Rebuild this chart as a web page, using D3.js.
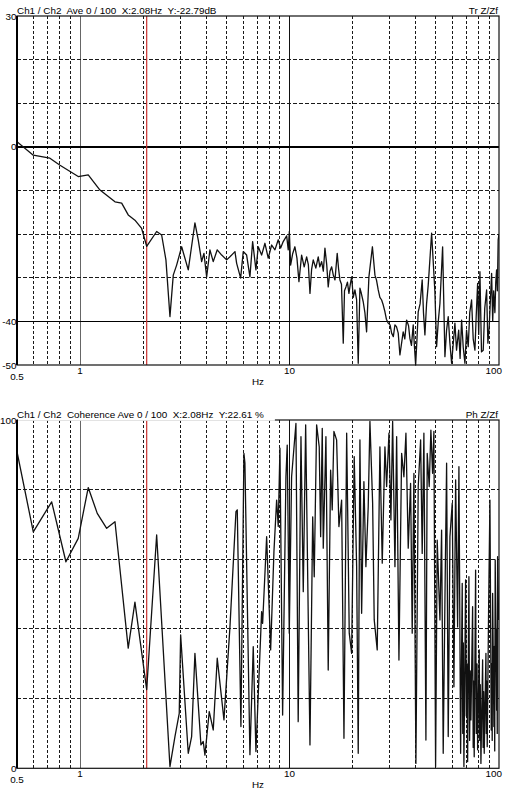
<!DOCTYPE html>
<html><head><meta charset="utf-8">
<script src="https://cdn.jsdelivr.net/npm/d3@7"></script>
<style>
body{margin:0;background:#fff}
text{font-family:"Liberation Sans",Arial,sans-serif;font-size:9.9px;fill:#000}
</style>
</head><body><svg id="c" width="510" height="791"></svg>
<script>
// ---------- data ----------
const xTickValues = [0.5, 1, 10, 100];
const xTickLabels = ["0.5", "1", "10", "100"];
const xMinorGrid = [0.6,0.7,0.8,0.9,2,3,4,5,6,7,8,9,20,30,40,50,60,70,80,90];
const xMajorGrid = [1, 10];
const markerFreq = 2.08;

const trHeader = "Ch1 / Ch2  Ave 0 / 100  X:2.08Hz  Y:-22.79dB";
const trRight = "Tr Z/Zf";
const trYTicks = [30, 0, -40, -50];
const trDashed = [20, 10, -10, -20, -30];
const trSolid = [0, -40];
const trFreq = [0.5,0.598,0.718,0.802,0.98,1.094,1.245,1.468,1.58,1.698,1.828,1.968,2.08,2.321,2.452,2.57,2.686,2.786,2.891,3.055,3.285,3.535,3.666,3.806,3.903,4.021,4.169,4.323,4.518,4.743,5.01,5.195,5.489,5.592,5.843,6.012,6.24,6.471,6.666,6.912,7.09,7.359,7.632,7.913,8.215,8.518,8.833,9.07,9.33,9.69,9.86,9.98,
  10.12,10.35,10.61,10.85,11.09,11.42,11.75,12.07,12.3,12.52,12.75,12.98,13.35,13.71,13.95,14.23,14.5,14.76,15.05,15.3,15.6,15.89,16.2,16.48,16.89,17.15,17.4,17.7,18.05,18.3,18.59,18.9,19.21,19.5,19.79,20.15,20.52,20.9,21.28,21.68,22.0,22.48,22.9,23.33,23.93,24.87,25.57,26.0,26.51,27.0,27.52,28.0,28.54,29.0,29.59,30.2,30.72,31.3,31.86,32.4,33.03,33.65,34.88,35.5,36.22,37.0,37.55,38.2,38.95,39.5,40.0,40.6,41.15,42.0,42.99,43.6,44.29,45.1,45.93,47.68,49.43,50.36,51.3,52.24,53.81,55.19,56.2,57.23,58.3,59.4,60.5,61.6,62.7,64.2,65.2,66.3,67.5,68.76,70.0,71.29,72.5,73.98,75.3,76.74,77.8,79.06,80.0,81.08,82.5,84.08,85.5,87.27,88.5,89.8,91.0,92.2,93.3,94.3,95.6,96.5,97.4,98.2,99.1,100];
const trDb = [1.2,-1.9,-2.6,-4.2,-6.8,-6.4,-9.9,-12.6,-12.9,-15.6,-16.8,-18.7,-22.79,-19.4,-20.2,-25.9,-38.9,-29.4,-27.1,-22.9,-28.2,-17.4,-21.3,-26.3,-24.4,-29.8,-23.6,-26.3,-23.6,-24.8,-25.9,-25.2,-24.0,-26.7,-30.1,-24.0,-24.8,-29.8,-21.7,-28.2,-22.9,-24.8,-22.1,-25.5,-22.5,-23.6,-21.3,-23.2,-21.7,-20.4,-23.6,-19.4,
  -27.1,-24.5,-22.9,-25.5,-30.9,-24.8,-27.5,-25.2,-27.0,-33.6,-28.0,-25.9,-27.8,-25.2,-27.5,-26.3,-28.5,-23.2,-27.0,-32.1,-28.5,-27.5,-29.5,-30.5,-24.4,-28.0,-30.5,-31.5,-45.0,-33.0,-32.1,-31.0,-33.6,-31.5,-29.8,-34.5,-32.8,-35.0,-49.6,-32.4,-33.5,-35.5,-38.0,-42.4,-29.8,-22.9,-29.4,-30.5,-32.8,-34.5,-35.1,-36.2,-37.8,-39.5,-40.4,-40.8,-42.7,-43.5,-40.8,-41.2,-42.7,-47.7,-42.4,-44.0,-39.7,-41.0,-43.9,-45.5,-40.8,-46.0,-50,-44.0,-37.8,-36.0,-30.5,-38.0,-43.1,-36.0,-31.7,-19.8,-33.2,-45.8,-40.0,-35.9,-22.9,-48.1,-42.0,-38.9,-45.0,-49.6,-45.0,-40.4,-46.6,-42,-48.5,-39.7,-46,-49.6,-42,-45.8,-38,-35.1,-44,-46.6,-39,-31.3,-43,-28.6,-47,-46.6,-37,-32.8,-45,-41.2,-35,-29.0,-40,-33,-38,-31,-28.2,-33,-21.3,-20];

const cohHeader = "Ch1 / Ch2  Coherence Ave 0 / 100  X:2.08Hz  Y:22.61 %";
const cohRight = "Ph Z/Zf";
const cohYTicks = [100, 0];
const cohDashed = [80, 60, 40, 20];
const cohSolid = [];
const cohFreq = [0.5,0.598,0.732,0.856,0.98,1.094,1.208,1.34,1.468,1.698,1.828,2.08,2.321,2.686,2.838,2.975,3.021,3.285,3.409,3.535,3.776,3.873,3.946,4.138,4.323,4.518,4.864,5.195,5.55,5.63,5.861,6.057,6.124,6.471,6.711,6.912,7.359,7.44,7.776,8.126,8.425,8.679,8.833,9.0,9.27,9.612,9.75,9.97,10.23,10.73,11.0,11.34,11.63,11.94,12.52,12.9,13.12,13.47,13.86,14.08,14.33,14.49,14.92,15.3,15.71,15.99,16.29,16.78,17.21,17.73,18.19,18.74,19.28,19.79,20.36,20.91,21.28,21.68,22.09,22.65,23.15,23.75,24.2,24.93,25.37,26.22,27.01,27.71,28.54,29.08,29.83,30.48,31.06,31.86,32.46,33.29,34.29,35.16,35.95,36.87,37.84,38.52,39.25,40.12,41.15,42.25,42.99,43.8,44.78,45.43,46.43,47.3,48.19,48.89,49.81,50.7,52.24,53.21,54.16,55.19,56.22,57.23,58.31,59.8,60.93,62.08,63.45,64.37,65.58,66.75,67.15,67.55,68.0,69.28,69.8,70.3,70.82,71.84,72.4,72.9,73.44,74.82,75.3,75.7,76.15,77.33,77.9,78.5,79.06,80.46,80.9,81.4,81.98,83.52,84.0,84.5,85.02,86.62,87.0,87.4,87.86,89.23,90.52,91.82,92.3,92.8,93.24,94.56,95.0,95.4,95.92,97.41,97.8,98.1,98.47,99.56];
const cohPct = [90.9,67.9,76.5,59.3,66.0,80.6,73.2,68.9,70.8,34.5,47.7,22.61,67.0,0.5,9.1,15.8,38.3,4.3,9.1,33.0,6.7,7.7,3.8,16.3,11.0,31.6,13.9,40.6,73.7,74.2,12.0,90.4,87.6,3.9,34.9,4.8,45.0,41.6,66.5,34.0,62.2,77.0,69.4,91.9,15.3,83.7,92.8,38.8,83.7,99.0,13.4,95.2,50.7,98.6,6.7,72.2,55.0,98.6,92.3,66.5,97.6,63.2,95.2,28.2,85.6,74.2,96.7,94.3,69.4,77.0,8.6,96.2,38.8,33.0,89.5,57.9,4.3,94.3,44.5,82.3,57.9,75.1,99.6,76.1,42.6,34.0,92.3,58.9,92.3,80.9,96.2,71.3,99.6,57.9,95.2,31.1,90.4,83.7,96.2,63.2,81.8,38.8,84.7,1.4,80.9,94.3,61.7,96.2,8.1,90.4,80.9,97.1,84.7,96.7,0.5,65.5,42.6,68.4,4.3,48.3,87.6,9.1,66.5,76.1,23.4,82.8,40.6,86.6,4.3,53.1,10,36,0.5,54.1,15,30,1.9,55.0,8,28,13.9,46.4,6,25,3.3,56.9,10,30,5.3,34.0,8,24,1.4,31.1,6,22,4.3,33.0,10,25,6.2,46.4,77.0,11.0,30,8,50.2,12.0,35,5,59.8,16.7,40,10,60.8,42.6];

// ---------- drawing ----------
const svg = d3.select("#c");
const L = 17, R = 499;
const x = d3.scaleLog().domain([0.5, 100]).range([L, R]);

function panel(o) {
  const y = d3.scaleLinear().domain(o.domain).range([o.bottom, o.top]);
  const g = svg.append("g");
  const grid = g.append("g").attr("shape-rendering", "crispEdges");
  grid.selectAll(".vmin").data(xMinorGrid).join("line")
    .attr("x1", d => x(d)).attr("x2", d => x(d)).attr("y1", o.top).attr("y2", o.bottom)
    .attr("stroke", "#1a1a1a").attr("stroke-width", 1).attr("stroke-dasharray", "3,2");
  grid.selectAll(".vmaj").data(xMajorGrid).join("line")
    .attr("x1", d => x(d)).attr("x2", d => x(d)).attr("y1", o.top).attr("y2", o.bottom)
    .attr("stroke", d => d === 1 ? "#666" : "#111").attr("stroke-width", 1);
  grid.selectAll(".hd").data(o.dashed).join("line")
    .attr("x1", L).attr("x2", R).attr("y1", d => y(d)).attr("y2", d => y(d))
    .attr("stroke", "#1a1a1a").attr("stroke-width", 1).attr("stroke-dasharray", "4,2");
  grid.selectAll(".hs").data(o.solid).join("line")
    .attr("x1", L).attr("x2", R).attr("y1", d => y(d)).attr("y2", d => y(d))
    .attr("stroke", "#000").attr("stroke-width", 1.4);
  g.append("line").attr("x1", x(markerFreq)).attr("x2", x(markerFreq))
    .attr("y1", o.top).attr("y2", o.bottom).attr("stroke", "#c8322f").attr("stroke-width", 1.2);
  const cid = "clip" + o.id;
  svg.append("clipPath").attr("id", cid).append("rect")
    .attr("x", L).attr("y", o.top - 1).attr("width", R - L).attr("height", o.bottom - o.top + 2);
  const pts = o.freq.map((f, i) => [f, o.vals[i]]);
  g.append("path").datum(pts).attr("clip-path", `url(#${cid})`)
    .attr("fill", "none").attr("stroke", "#111").attr("stroke-width", 1.3)
    .attr("stroke-linejoin", "round")
    .attr("d", d3.line().x(d => x(d[0])).y(d => y(d[1])));
  g.append("rect").attr("x", L).attr("y", o.top).attr("width", R - L).attr("height", o.bottom - o.top)
    .attr("fill", "none").attr("stroke", "#111").attr("stroke-width", 1.2);
  g.append("line").attr("x1", L).attr("x2", L).attr("y1", o.top).attr("y2", o.bottom)
    .attr("stroke", "#000").attr("stroke-width", 2);
  const ht = g.append("text").attr("x", L).attr("y", o.top - 2.5)
    .style("white-space", "pre").text(o.header);
  if (o.maskBorder) {
    const bb = ht.node().getBBox();
    g.insert("rect", "text").attr("x", L + 1).attr("y", bb.y).attr("width", bb.width + 10)
      .attr("height", o.top - bb.y + 0.8).attr("fill", "#fff");
  }
  g.append("text").attr("x", R - 1).attr("y", o.top - 2.5).attr("text-anchor", "end")
    .style("white-space", "pre").text(o.right);
  g.selectAll(".yl").data(o.yTicks).join("text")
    .attr("x", L - 0.5).attr("y", d => y(d)).attr("dy", "0.36em")
    .attr("text-anchor", "end").text(d => d);
  g.selectAll(".xl").data(xTickValues).join("text")
    .attr("x", (d, i) => i === xTickValues.length - 1 ? R + 3 : x(d))
    .attr("y", (d, i) => o.bottom + (i === 0 ? 14.7 : 8.8))
    .attr("text-anchor", (d, i) => i === xTickValues.length - 1 ? "end" : "middle")
    .text((d, i) => xTickLabels[i]);
  g.append("text").attr("x", (L + R) / 2).attr("y", o.bottom + 19.8)
    .attr("text-anchor", "middle").text("Hz");
}

panel({id: 1, top: 16, bottom: 365, domain: [-50, 30], dashed: trDashed, solid: trSolid,
  yTicks: trYTicks, freq: trFreq, vals: trDb, header: trHeader, right: trRight, maskBorder: false});
panel({id: 2, top: 420, bottom: 768.3, domain: [0, 100], dashed: cohDashed, solid: cohSolid,
  yTicks: cohYTicks, freq: cohFreq, vals: cohPct, header: cohHeader, right: cohRight, maskBorder: true});
</script>
</body></html>
